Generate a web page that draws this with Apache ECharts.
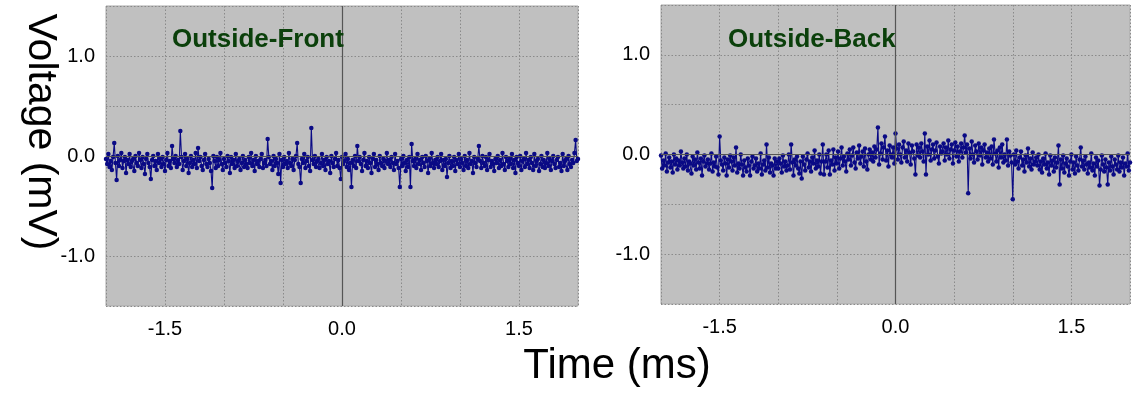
<!DOCTYPE html>
<html>
<head>
<meta charset="utf-8">
<script src="https://cdn.jsdelivr.net/npm/echarts@6/dist/echarts.min.js"></script>
<style>
html,body{margin:0;padding:0;background:#fff;}
#chart{width:1133px;height:403px;}
</style>
</head>
<body>
<div id="chart"></div>
<script>
// Panel titles
const panelTitles = ['Outside-Front', 'Outside-Back'];
// Axis names
const xAxisName = 'Time (ms)';
const yAxisName = 'Voltage (mV)';
// Tick labels shown
const xTickLabels = ['-1.5', '0.0', '1.5'];
const yTickLabels = ['-1.0', '0.0', '1.0'];
// Sampling: first sample time (ms) and sample period (ms)
const timeStart = -2.0;
const samplePeriod = 0.01;

// Outside-Front voltage samples (mV)
const frontValues = [
-0.03,-0.08,0.02,-0.11,-0.05,-0.14,-0.01,0.13,-0.07,-0.24,0.00,-0.10,-0.04,0.03,-0.12,-0.05,-0.01,-0.17,-0.04,-0.08,
0.02,-0.11,-0.05,-0.03,-0.15,0.00,-0.07,-0.10,0.03,-0.04,-0.12,-0.01,-0.08,-0.18,-0.03,0.02,-0.07,-0.11,-0.23,-0.04,
0.00,-0.10,-0.05,-0.14,0.02,-0.07,-0.03,-0.11,-0.01,-0.08,-0.15,-0.04,0.03,-0.10,-0.05,-0.12,0.10,-0.03,-0.07,0.00,
-0.11,-0.04,-0.08,0.25,-0.01,-0.14,-0.05,0.02,-0.10,-0.03,-0.17,-0.07,0.00,-0.11,-0.04,-0.08,0.03,-0.12,0.08,-0.05,
-0.01,-0.10,-0.14,-0.04,0.02,-0.08,-0.11,-0.03,-0.07,-0.15,-0.32,0.00,-0.05,-0.12,-0.01,-0.10,-0.04,0.03,-0.08,-0.14,
-0.03,-0.07,-0.11,0.00,-0.05,-0.17,-0.01,-0.08,-0.04,-0.12,0.02,-0.10,-0.05,-0.03,-0.14,-0.07,0.00,-0.11,-0.04,-0.08,
-0.12,-0.01,-0.07,0.03,-0.10,-0.04,-0.15,0.00,-0.08,-0.05,-0.11,-0.03,0.02,-0.12,-0.07,-0.04,-0.10,0.17,-0.01,-0.08,
-0.05,-0.14,0.00,-0.10,-0.03,-0.07,-0.18,0.02,-0.27,-0.04,-0.11,-0.01,-0.08,-0.05,-0.12,0.03,-0.07,-0.10,-0.03,-0.14,
-0.04,0.00,0.13,-0.08,-0.11,-0.27,-0.03,-0.07,0.02,-0.12,-0.05,-0.01,-0.10,-0.15,0.28,-0.04,-0.08,0.00,-0.11,-0.05,
-0.03,-0.12,-0.07,0.02,-0.10,-0.04,-0.14,-0.01,-0.08,-0.05,-0.17,0.00,-0.07,-0.11,-0.03,0.03,-0.10,-0.04,-0.12,-0.23,
-0.01,-0.08,-0.05,0.02,-0.11,-0.03,-0.14,-0.07,-0.31,-0.04,-0.10,0.00,-0.12,0.10,-0.05,-0.01,-0.08,-0.15,-0.04,0.03,
-0.10,-0.05,-0.12,-0.01,-0.07,-0.17,-0.03,0.02,-0.11,-0.04,-0.08,-0.14,0.00,-0.07,-0.10,-0.03,-0.12,-0.05,0.03,-0.08,
-0.04,-0.11,-0.01,-0.07,-0.14,0.02,-0.08,-0.05,-0.12,-0.31,-0.03,-0.10,0.00,-0.07,-0.15,-0.04,-0.11,-0.01,-0.31,0.12,
-0.05,-0.10,-0.03,-0.12,0.02,-0.08,-0.04,-0.14,-0.01,-0.07,-0.11,0.00,-0.05,-0.17,-0.03,-0.10,0.03,-0.07,-0.12,-0.04,
-0.08,-0.01,-0.11,-0.05,0.02,-0.14,-0.04,-0.10,-0.03,-0.21,-0.07,0.00,-0.12,-0.05,-0.10,-0.01,-0.15,-0.04,-0.08,0.02,
-0.11,-0.03,-0.07,-0.14,0.00,-0.10,-0.04,-0.12,0.03,-0.08,-0.05,-0.17,-0.01,-0.07,-0.11,-0.03,0.10,-0.05,-0.12,0.00,
-0.07,-0.10,-0.01,-0.14,-0.04,0.02,-0.11,-0.05,-0.08,-0.15,-0.03,-0.07,0.00,-0.12,-0.04,-0.10,0.03,-0.08,-0.14,-0.01,
-0.05,-0.11,-0.03,-0.08,0.02,-0.12,-0.04,-0.17,-0.01,-0.07,-0.10,0.00,-0.14,-0.05,-0.03,-0.11,0.03,-0.08,-0.04,-0.12,
-0.01,-0.07,-0.14,0.02,-0.10,-0.05,-0.03,-0.15,-0.08,0.00,-0.11,-0.04,-0.12,-0.07,0.03,-0.10,-0.03,-0.14,-0.05,0.00,
-0.08,-0.12,-0.04,-0.01,-0.11,-0.07,-0.15,0.02,-0.10,-0.05,-0.03,-0.14,0.00,-0.08,-0.11,-0.04,-0.07,0.03,0.16,-0.05,
-0.03
];

// Outside-Back voltage samples (mV)
const backValues = [
-0.01,-0.14,-0.06,-0.11,0.01,-0.17,-0.08,-0.03,-0.13,-0.07,-0.18,0.00,-0.10,-0.04,-0.15,-0.06,-0.11,0.03,-0.08,-0.14,
-0.04,-0.12,0.00,-0.16,-0.07,-0.09,-0.19,-0.02,-0.11,-0.05,-0.15,0.02,-0.08,-0.14,-0.04,-0.21,-0.07,-0.01,-0.12,-0.09,
-0.05,-0.15,-0.09,0.01,-0.17,-0.08,-0.12,-0.02,-0.13,-0.20,0.18,-0.06,-0.10,-0.16,-0.03,-0.09,-0.21,-0.05,-0.13,-0.01,
-0.07,-0.16,-0.03,-0.11,0.07,-0.18,-0.09,-0.14,0.00,-0.10,-0.21,-0.06,-0.13,-0.17,-0.04,-0.11,-0.21,-0.07,-0.02,-0.14,
-0.11,-0.04,-0.17,-0.09,-0.14,0.01,-0.20,-0.10,-0.06,-0.16,0.10,-0.13,-0.03,-0.18,-0.09,-0.11,-0.21,-0.04,-0.14,-0.07,
-0.14,-0.04,-0.09,-0.18,-0.01,-0.12,-0.07,-0.16,-0.11,0.00,-0.15,0.10,-0.08,-0.21,-0.05,-0.11,-0.02,-0.14,-0.19,-0.07,
-0.24,-0.02,-0.10,-0.16,-0.05,0.01,-0.13,-0.07,-0.17,-0.03,-0.09,0.04,-0.14,-0.06,-0.12,0.00,-0.19,-0.07,0.10,-0.20,
-0.07,0.00,-0.13,0.04,-0.20,-0.06,-0.10,0.05,-0.16,-0.03,-0.09,0.03,-0.14,-0.04,0.07,-0.11,-0.02,-0.07,-0.17,0.01,
-0.05,0.05,-0.11,-0.01,0.07,-0.08,-0.14,0.02,-0.04,0.09,-0.09,-0.02,0.03,-0.12,0.06,-0.07,-0.15,0.00,0.05,-0.05,
0.02,-0.07,0.08,-0.03,0.05,0.27,-0.10,0.01,0.11,-0.05,0.07,0.18,-0.06,0.04,-0.12,0.09,0.00,-0.03,0.07,-0.09,
0.21,0.06,-0.05,0.10,0.00,-0.08,0.07,0.13,-0.03,0.04,-0.07,0.11,0.02,-0.10,0.09,0.03,-0.04,-0.20,0.10,-0.01,
0.07,-0.03,0.11,0.03,-0.07,0.21,-0.20,0.08,0.00,0.14,-0.06,0.05,0.10,-0.04,0.04,0.12,-0.02,-0.09,0.08,0.01,
0.03,0.11,-0.06,0.07,0.00,0.14,-0.04,0.05,0.10,-0.09,0.04,0.12,-0.02,0.08,-0.07,0.03,0.11,-0.03,0.07,0.19,
0.02,0.10,-0.39,0.06,-0.04,0.13,0.00,-0.08,0.09,0.03,-0.05,0.11,-0.01,0.07,-0.10,0.04,0.10,-0.03,0.02,-0.07,
0.06,-0.04,0.08,-0.10,0.15,0.01,-0.07,0.04,-0.13,0.07,-0.03,0.10,-0.08,0.00,-0.06,0.15,-0.11,0.03,-0.01,-0.08,
-0.45,0.00,-0.10,0.04,-0.07,-0.14,-0.03,0.03,-0.11,-0.05,-0.17,-0.01,-0.08,0.06,-0.12,-0.04,-0.15,0.02,-0.10,-0.07,
-0.03,-0.11,0.00,-0.15,-0.07,-0.18,-0.04,-0.10,0.01,-0.14,-0.08,-0.20,-0.01,-0.11,-0.06,-0.17,-0.03,-0.13,-0.08,0.09,
-0.30,-0.05,-0.14,-0.01,-0.18,-0.09,-0.04,-0.12,-0.21,-0.07,0.00,-0.15,-0.08,-0.19,-0.02,-0.11,-0.16,-0.05,0.07,-0.12,
-0.06,-0.15,-0.02,-0.10,-0.19,-0.08,-0.13,0.01,-0.16,-0.09,-0.21,-0.03,-0.12,-0.06,-0.31,-0.15,-0.01,-0.10,-0.17,-0.05,
-0.13,-0.30,-0.08,-0.16,-0.02,-0.12,-0.20,-0.05,-0.10,-0.15,-0.01,-0.17,-0.08,-0.13,-0.03,-0.21,-0.09,-0.12,0.01,-0.16,
-0.08
];

function toPairs(vals){
  return vals.map((v,i)=>[+(timeStart + i*samplePeriod).toFixed(3), v]);
}

const FONT = '"Liberation Sans", Arial, sans-serif';
const gridsPx = [
  {left:106, top:6, width:472, height:300},
  {left:661, top:5, width:469, height:299}
];

const xAxes = [], yAxes = [], series = [], titles = [];
const datasets = [frontValues, backValues];
const titleLefts = [172, 728];
const gridLine = {show:true, lineStyle:{color:'#8a8a8a', type:[1.5,2], width:1}};

gridsPx.forEach((g,k)=>{
  xAxes.push({
    type:'value', gridIndex:k, min:-2, max:2, interval:0.5,
    axisLine:{show:false}, axisTick:{show:false},
    splitLine:gridLine,
    axisLabel:{
      margin:13, color:'#000', fontSize:20, fontFamily:FONT,
      showMinLabel:true, showMaxLabel:true,
      formatter:(v)=>{ const s=v.toFixed(1); return xTickLabels.includes(s)?s:''; }
    }
  });
  yAxes.push({
    type:'value', gridIndex:k, min:-1.5, max:1.5, interval:0.5,
    axisLine:{show:false}, axisTick:{show:false},
    splitLine:gridLine,
    axisLabel:{
      margin:11, color:'#000', fontSize:20, fontFamily:FONT,
      formatter:(v)=>{ const s=v.toFixed(1); return yTickLabels.includes(s)?s:''; }
    }
  });
  // zero reference lines (behind data)
  series.push({
    type:'line', xAxisIndex:k, yAxisIndex:k, data:[], z:1, silent:true,
    markLine:{
      silent:true, symbol:'none', animation:false, label:{show:false},
      lineStyle:{color:'#555555', type:'solid', width:1.2},
      data:[{xAxis:0},{yAxis:0}]
    }
  });
  series.push({
    type:'line', xAxisIndex:k, yAxisIndex:k, z:3,
    data:toPairs(datasets[k]),
    symbol:'circle', symbolSize:4.5, showSymbol:true,
    lineStyle:{color:'#0a0a85', width:1.1},
    itemStyle:{color:'#0a0a85'},
    animation:false
  });
  titles.push({
    text:panelTitles[k], left:titleLefts[k], top:27, padding:0,
    textStyle:{color:'#0b400b', fontSize:26, fontWeight:'bold', fontFamily:FONT}
  });
});

const chart = echarts.init(document.getElementById('chart'), null, {renderer:'canvas'});
chart.setOption({
  animation:false,
  backgroundColor:'#ffffff',
  title:titles,
  grid:gridsPx.map(g=>Object.assign({show:true, backgroundColor:'#c0c0c0', borderColor:'#a9a9a9', borderWidth:1, containLabel:false}, g)),
  xAxis:xAxes,
  yAxis:yAxes,
  series:series,
  graphic:[
    {type:'text', x:20, y:132, rotation:-Math.PI/2,
     style:{text:yAxisName, fill:'#000', font:'41px '+FONT, textAlign:'center', textVerticalAlign:'bottom'}},
    {type:'text', x:617, y:387,
     style:{text:xAxisName, fill:'#000', font:'42px '+FONT, textAlign:'center', textVerticalAlign:'bottom'}}
  ]
});
</script>
</body>
</html>
